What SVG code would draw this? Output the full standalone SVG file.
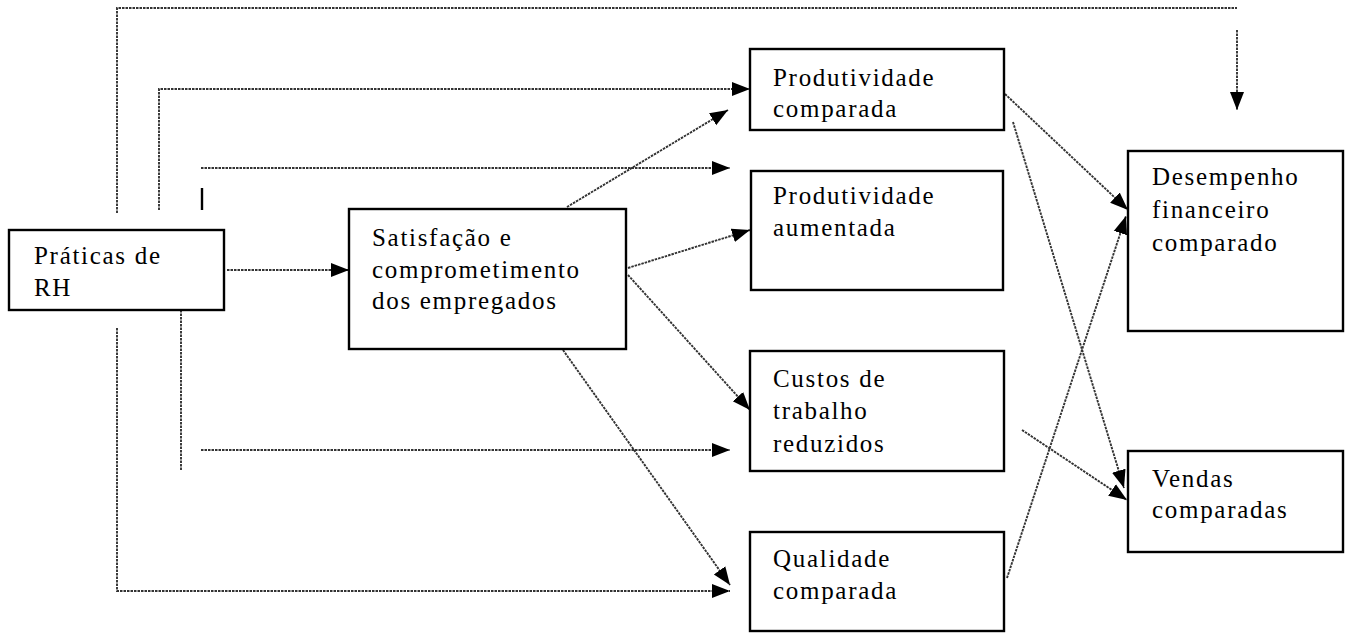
<svg xmlns="http://www.w3.org/2000/svg" width="1353" height="634" viewBox="0 0 1353 634">
<style>
.box{fill:#fff;stroke:#000;stroke-width:2.4}
.t{font-family:"Liberation Serif","Times New Roman",serif;font-size:25px;letter-spacing:1.7px;fill:#000}
.c{fill:none;stroke:#333;stroke-width:1.9;stroke-dasharray:2.5 1}
</style>
<defs>
<marker id="ah" markerUnits="userSpaceOnUse" markerWidth="20" markerHeight="16" refX="18" refY="8" orient="auto">
<path d="M0,1 L18,8 L0,15 Z" fill="#000"/>
</marker>
</defs>
<rect width="1353" height="634" fill="#fff"/>
<g id="connectors">
<path class="c" d="M117,213 V8 H1237"/>
<path class="c" d="M1237,30 V110" marker-end="url(#ah)"/>
<path class="c" d="M159,210 V89 H750" marker-end="url(#ah)"/>
<path class="c" d="M201,168 H730" marker-end="url(#ah)"/>
<path d="M202,188 V210" stroke="#000" stroke-width="2.4"/>
<path class="c" d="M227,270 H349" marker-end="url(#ah)"/>
<path class="c" d="M181,310 V470"/>
<path class="c" d="M201,450 H730" marker-end="url(#ah)"/>
<path class="c" d="M117,328 V591 H730" marker-end="url(#ah)"/>
<path class="c" d="M567,207 L728,110" marker-end="url(#ah)"/>
<path class="c" d="M628,268 L750,230" marker-end="url(#ah)"/>
<path class="c" d="M628,275 L750,410" marker-end="url(#ah)"/>
<path class="c" d="M563,350 L730,585" marker-end="url(#ah)"/>
<path class="c" d="M1005,94 L1128,210" marker-end="url(#ah)"/>
<path class="c" d="M1013,122 L1124,488" marker-end="url(#ah)"/>
<path class="c" d="M1007,578 L1126,216" marker-end="url(#ah)"/>
<path class="c" d="M1022,430 L1127,500" marker-end="url(#ah)"/>
</g>
<g id="praticas">
<rect class="box" x="9" y="230" width="215" height="80"/>
<text class="t" x="34" y="264">Práticas de</text>
<text class="t" x="34" y="296">RH</text>
</g>
<g id="satisfacao">
<rect class="box" x="349" y="209" width="277" height="140"/>
<text class="t" x="372" y="246">Satisfação e</text>
<text class="t" x="372" y="278">comprometimento</text>
<text class="t" x="372" y="309">dos empregados</text>
</g>
<g id="prod-comparada">
<rect class="box" x="750" y="49" width="254" height="81"/>
<text class="t" x="773" y="86">Produtividade</text>
<text class="t" x="773" y="117">comparada</text>
</g>
<g id="prod-aumentada">
<rect class="box" x="751" y="171" width="252" height="119"/>
<text class="t" x="773" y="204">Produtividade</text>
<text class="t" x="773" y="236">aumentada</text>
</g>
<g id="custos">
<rect class="box" x="750" y="351" width="254" height="120"/>
<text class="t" x="773" y="387">Custos de</text>
<text class="t" x="773" y="419">trabalho</text>
<text class="t" x="773" y="452">reduzidos</text>
</g>
<g id="qualidade">
<rect class="box" x="750" y="532" width="254" height="99"/>
<text class="t" x="773" y="567">Qualidade</text>
<text class="t" x="773" y="599">comparada</text>
</g>
<g id="desempenho">
<rect class="box" x="1128" y="151" width="215" height="180"/>
<text class="t" x="1152" y="185">Desempenho</text>
<text class="t" x="1152" y="218">financeiro</text>
<text class="t" x="1152" y="251">comparado</text>
</g>
<g id="vendas">
<rect class="box" x="1128" y="451" width="215" height="101"/>
<text class="t" x="1152" y="487">Vendas</text>
<text class="t" x="1152" y="518">comparadas</text>
</g>
</svg>
